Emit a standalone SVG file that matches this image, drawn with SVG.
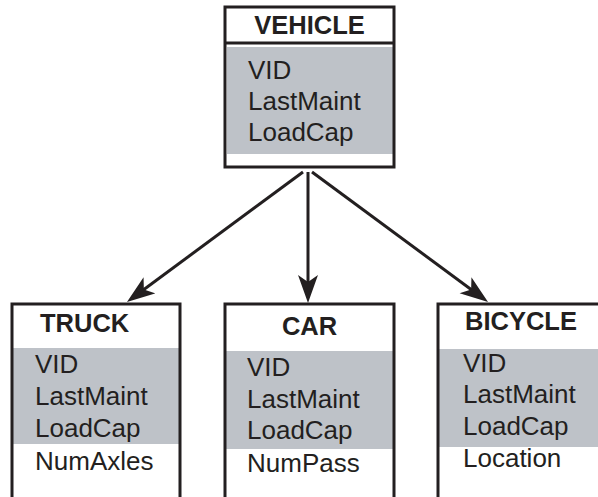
<svg xmlns="http://www.w3.org/2000/svg" width="598" height="497" viewBox="0 0 598 497">
<style>
.box{fill:none;stroke:#231f20;stroke-width:3}
.band{fill:#bec2c8}
.hd{font-family:"Liberation Sans",Arial,sans-serif;font-weight:bold;font-size:25.5px;fill:#231f20}
.at{font-family:"Liberation Sans",Arial,sans-serif;font-size:26px;fill:#231f20}
.conn{stroke:#231f20;stroke-width:3;fill:none}
</style>
<defs>
<marker id="ah" markerUnits="userSpaceOnUse" markerWidth="30" markerHeight="22" refX="20" refY="10" orient="auto">
<path d="M0,0 L28,10 L0,20 L7,10 z" fill="#231f20"/>
</marker>
</defs>
<rect width="598" height="497" fill="#fff"/>
<g id="vehicle">
<rect class="band" x="227" y="47" width="166" height="107"/>
<rect class="box" x="225" y="7" width="169" height="160"/>
<line class="box" x1="225" y1="43" x2="394" y2="43"/>
<text class="hd" x="309.5" y="34" text-anchor="middle">VEHICLE</text>
<text class="at" x="248" y="79">VID</text>
<text class="at" x="248" y="110">LastMaint</text>
<text class="at" x="248" y="141">LoadCap</text>
</g>
<g id="truck">
<rect class="band" x="13" y="348" width="166" height="96"/>
<path class="box" d="M12,500 V304 H180 V500"/>
<text class="hd" x="40" y="332">TRUCK</text>
<text class="at" x="35" y="373">VID</text>
<text class="at" x="35" y="405">LastMaint</text>
<text class="at" x="35" y="437">LoadCap</text>
<text class="at" x="35" y="470">NumAxles</text>
</g>
<g id="car">
<rect class="band" x="226" y="351" width="167" height="98"/>
<path class="box" d="M225,500 V304 H394 V500"/>
<text class="hd" x="309.5" y="335" text-anchor="middle">CAR</text>
<text class="at" x="247" y="376">VID</text>
<text class="at" x="247" y="408">LastMaint</text>
<text class="at" x="247" y="439">LoadCap</text>
<text class="at" x="247" y="472">NumPass</text>
</g>
<g id="bicycle">
<rect class="band" x="439" y="349" width="161" height="98"/>
<path class="box" d="M438,500 V304 H602"/>
<text class="hd" x="465" y="330">BICYCLE</text>
<text class="at" x="463" y="372">VID</text>
<text class="at" x="463" y="403">LastMaint</text>
<text class="at" x="463" y="435">LoadCap</text>
<text class="at" x="463" y="467">Location</text>
</g>
<g id="connectors">
<line class="conn" x1="303" y1="172" x2="133.4" y2="297.2" marker-end="url(#ah)"/>
<line class="conn" x1="308" y1="172" x2="308" y2="295" marker-end="url(#ah)"/>
<line class="conn" x1="312" y1="172" x2="481.6" y2="297.2" marker-end="url(#ah)"/>
</g>
</svg>
